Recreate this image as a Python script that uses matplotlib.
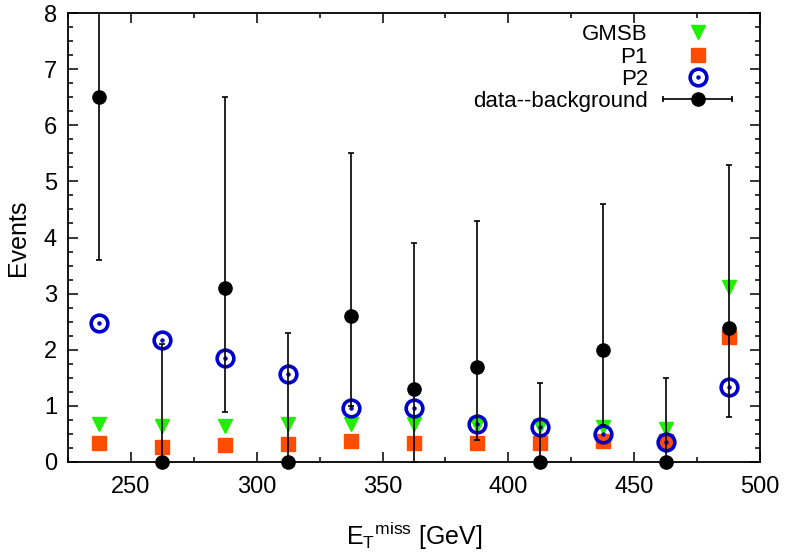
import matplotlib
matplotlib.use("Agg")
import matplotlib.pyplot as plt
from matplotlib.lines import Line2D
from matplotlib.legend_handler import HandlerLine2D, HandlerTuple
from matplotlib.ticker import MultipleLocator

plt.rcParams['font.family'] = ['Liberation Sans', 'DejaVu Sans']
plt.rcParams['mathtext.fontset'] = 'custom'
plt.rcParams['mathtext.rm'] = 'Liberation Sans'

# ---- data ----
met_bins = [237.5, 262.5, 287.5, 312.5, 337.5, 362.5, 387.5, 412.5, 437.5, 462.5, 487.5]
gmsb = [0.67, 0.65, 0.64, 0.68, 0.67, 0.67, 0.66, 0.64, 0.62, 0.58, 3.11]
p1 = [0.33, 0.26, 0.30, 0.32, 0.38, 0.34, 0.33, 0.34, 0.37, 0.37, 2.22]
p2 = [2.47, 2.18, 1.86, 1.57, 0.97, 0.96, 0.67, 0.63, 0.50, 0.36, 1.34]
data_bkg = [6.5, 0.0, 3.1, 0.0, 2.6, 1.3, 1.7, 0.0, 2.0, 0.0, 2.39]
err_low = [3.6, 0.0, 0.89, 0.0, 0.99, 0.0, 0.40, 0.0, 0.66, 0.0, 0.80]
err_high = [9.5, 2.1, 6.5, 2.29, 5.5, 3.9, 4.3, 1.4, 4.6, 1.5, 5.29]

series_labels = ["GMSB", "P1", "P2", "data--background"]
xlabel = r"$\mathregular{E_{T}{}^{miss}}$ [GeV]"
ylabel = "Events"

c_gmsb = "#22ee00"
c_p1 = "#ff4d00"
c_p2 = "#0000cc"

fig = plt.figure(figsize=(7.86, 5.57), dpi=100)
ax = fig.add_axes([68/786, 1-462/557, (760-68)/786, (462-13)/557])

ax.plot(met_bins, gmsb, ls='none', marker='v', ms=10.5, color=c_gmsb, mec=c_gmsb, zorder=2, clip_on=False)
ax.plot(met_bins, p1, ls='none', marker='s', ms=10, color=c_p1, mec=c_p1, zorder=3, clip_on=False)
ax.plot(met_bins, p2, ls='none', marker='o', ms=12, mfc='none', mec=c_p2, mew=2.6, zorder=4, clip_on=False)
ax.plot(met_bins, p2, ls='none', marker='o', ms=2.2, color=c_p2, zorder=4, clip_on=False)

yerr = [[d - lo for d, lo in zip(data_bkg, err_low)],
        [hi - d for d, hi in zip(data_bkg, err_high)]]
ax.errorbar(met_bins, data_bkg, yerr=yerr, fmt='none', ecolor='black',
            elinewidth=1.2, capsize=2.3, capthick=1.2, zorder=5)
ax.plot(met_bins, data_bkg, ls='none', marker='o', ms=9.5, color='black', zorder=6, clip_on=False)

ax.set_xlim(225, 500)
ax.set_ylim(0, 8)
ax.xaxis.set_major_locator(MultipleLocator(50))
ax.xaxis.set_minor_locator(MultipleLocator(25))
ax.yaxis.set_major_locator(MultipleLocator(1))
ax.yaxis.set_minor_locator(MultipleLocator(0.25))
ax.tick_params(which='both', direction='in', top=True, right=True, width=1.1, labelsize=17)
ax.tick_params(which='major', length=7)
ax.tick_params(axis='x', which='major', pad=10)
ax.tick_params(axis='y', which='major', pad=8)
ax.tick_params(which='minor', length=3.5)
for s in ax.spines.values():
    s.set_linewidth(1.3)
    s.set_zorder(10)

ax.set_xlabel(xlabel, fontsize=18, labelpad=16)
ax.set_ylabel(ylabel, fontsize=18, labelpad=10)

# legend (gnuplot style: text right-aligned, symbol on right)
h_gmsb = Line2D([], [], ls='none', marker='v', ms=10.5, color=c_gmsb)
h_p1 = Line2D([], [], ls='none', marker='s', ms=10, color=c_p1)
h_p2a = Line2D([], [], ls='none', marker='o', ms=12, mfc='none', mec=c_p2, mew=2.6)
h_p2b = Line2D([], [], ls='none', marker='o', ms=2.2, color=c_p2)
h_caps = Line2D([], [], ls='-', lw=1.2, color='black', marker='|', ms=5, mew=1.2)
h_dot = Line2D([], [], ls='none', marker='o', ms=9.5, color='black')

leg = ax.legend([h_gmsb, h_p1, (h_p2a, h_p2b), (h_caps, h_dot)], series_labels,
                loc='upper right', bbox_to_anchor=(0.96, 0.975),
                markerfirst=False, frameon=False, fontsize=16,
                handlelength=3.1, handletextpad=0.7, labelspacing=0.06,
                borderpad=0, borderaxespad=0,
                handler_map={h_caps: HandlerLine2D(numpoints=2, marker_pad=0),
                             tuple: HandlerTuple(ndivide=1, pad=0)})
for col in leg._legend_handle_box.get_children():
    col.align = 'right'

fig.savefig("out.png", dpi=100)
